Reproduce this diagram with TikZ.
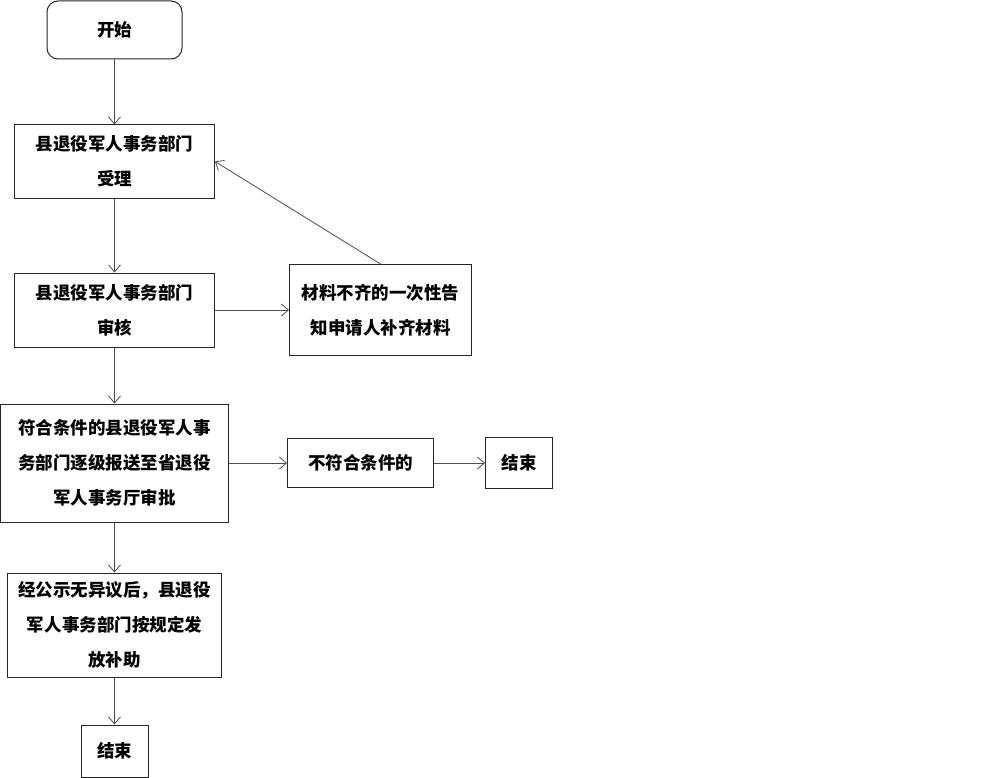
\documentclass[tikz,border=0pt]{standalone}
\usepackage{fontspec}
\setmainfont{Noto Sans CJK SC}
\usetikzlibrary{positioning, arrows.meta}

\begin{document}
\begin{tikzpicture}
    [
        x=1pt, y=1pt, node distance=140pt and 250pt, on grid, >={Straight Barb[length=7pt, width=12pt]},
        step_box/.style={rectangle, draw=black!85, line width=1pt, fill=white, align=center, inner sep=0pt, font=\fontsize{17.5}{35}\selectfont\bfseries},
        start_box/.style={step_box, rounded corners=11pt},
        flow_arrow/.style={->, line width=0.8pt, color=black!70},
    ]
        \useasboundingbox (0,0) rectangle (1003,-778) ;
        \node[start_box, minimum width=135pt, minimum height=58pt] (start) at (114.5,-30) {开始} ;
        \node[step_box, minimum width=200pt, minimum height=73pt] (accept) [below = 131.5pt of start] {县退役军人事务部门\\受理} ;
        \node[step_box, minimum width=200pt, minimum height=74pt] (review) [below = 148.5pt of accept] {县退役军人事务部门\\审核} ;
        \node[step_box, minimum width=182pt, minimum height=91pt] (notify) [right = 266pt of review] {材料不齐的一次性告\\知申请人补齐材料} ;
        \node[step_box, minimum width=228pt, minimum height=118pt] (approve) [below = 153pt of review] {符合条件的县退役军人事\\务部门逐级报送至省退役\\军人事务厅审批} ;
        \node[step_box, minimum width=146pt, minimum height=49pt] (fail) [right = 246pt of approve] {不符合条件的} ;
        \node[step_box, minimum width=67pt, minimum height=51pt] (end1) [right = 158.5pt of fail] {结束} ;
        \node[step_box, minimum width=214pt, minimum height=104pt] (pay) [below = 162pt of approve] {经公示无异议后，县退役\\军人事务部门按规定发\\放补助} ;
        \node[step_box, minimum width=67pt, minimum height=52pt] (end2) [below = 126pt of pay] {结束} ;
        \draw[flow_arrow] (start) -- (accept) ;
        \draw[flow_arrow] (accept) -- (review) ;
        \draw[flow_arrow] (review) -- (notify) ;
        \draw[flow_arrow] (notify.north) -- (accept.east) ;
        \draw[flow_arrow] (review) -- (approve) ;
        \draw[flow_arrow] (approve) -- (fail) ;
        \draw[flow_arrow] (fail) -- (end1) ;
        \draw[flow_arrow] (approve) -- (pay) ;
        \draw[flow_arrow] (pay) -- (end2) ;
    \end{tikzpicture}
\end{document}
